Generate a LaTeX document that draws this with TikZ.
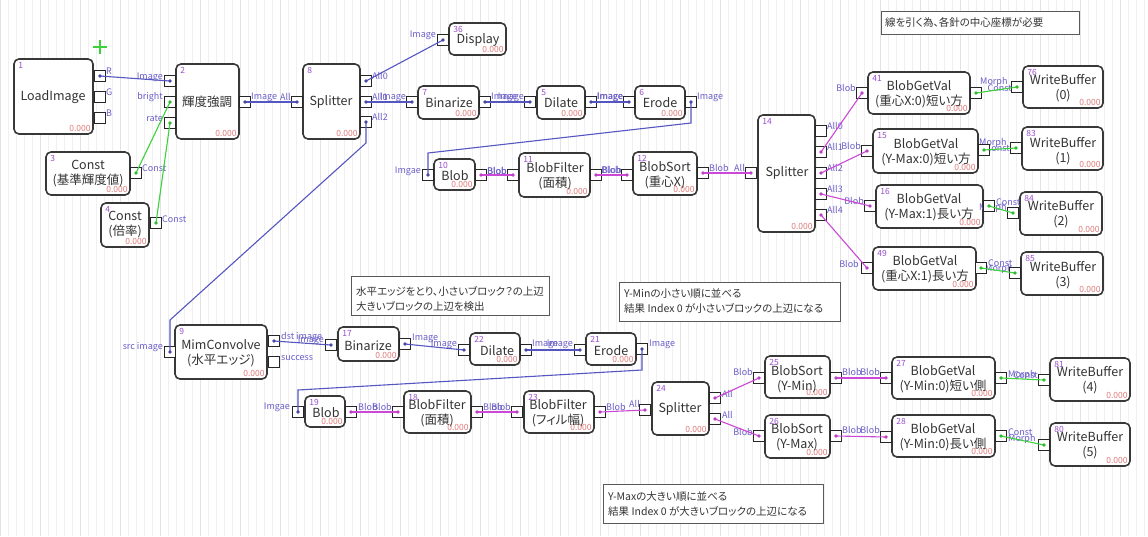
\documentclass[tikz,border=0pt]{standalone}
\usepackage{fontspec}
\setmainfont{Noto Sans CJK JP}[RawFeature=+palt]
\definecolor{boxln}{HTML}{383838}
\definecolor{numc}{HTML}{9A4FCB}
\definecolor{valc}{HTML}{E07A7A}
\definecolor{labc}{HTML}{6A5EC8}
\definecolor{cimg}{HTML}{5656C2}
\definecolor{cimgd}{HTML}{4646A8}
\definecolor{cblob}{HTML}{CC48D6}
\definecolor{cblobd}{HTML}{BE3EC8}
\definecolor{cconst}{HTML}{3CD23C}
\definecolor{cconstd}{HTML}{2CBC2C}
\definecolor{txtc}{HTML}{333333}
\newcommand\blk[6]{%
  \node[blkbox, minimum width={(#4)-(#2)}, minimum height={(#5)-(#3)}] (#1) at ({((#2)+(#4))/2},{((#3)+(#5))/2}) {};
  \node[numlab, anchor=north west] (#1num) at ([shift={(5,4)}]#1.north west) {#6};
  \node[vallab, anchor=south east] (#1val) at ([shift={(-3,-3)}]#1.south east) {0.000};
}
\newcommand\btxt[4]{\node[mtxt] (#1t) at (#2,#3) {#4};}
\newcommand\prt[3]{\node[port] (#1) at (#2,#3) {};}
\newcommand\labw[3]{\node[plab, anchor=west] (lw#1-#2) at (#1,#2) {#3};}
\newcommand\labe[3]{\node[plab, anchor=east] (le#1-#2) at (#1,#2) {#3};}
\newcommand\wire[3]{\draw[w#1] (#2.center) -- (#3.center);
  \fill[d#1] (#2.center) circle (1.8pt) (#3.center) circle (1.8pt);}
\begin{document}
\begin{tikzpicture}[x=1pt,y=-1pt,
  blkbox/.style={rectangle, draw=boxln, line width=1.6pt, fill=white, rounded corners=5pt, inner sep=0},
  port/.style={rectangle, draw=black!85, line width=1.3pt, fill=white, minimum size=11pt, inner sep=0},
  numlab/.style={font=\fontsize{8.5}{9}\selectfont, text=numc, inner sep=0},
  vallab/.style={font=\fontsize{8.5}{9}\selectfont, text=valc, inner sep=0},
  mtxt/.style={font=\fontsize{12.5}{15}\selectfont, text=txtc, align=center, inner sep=0},
  plab/.style={font=\fontsize{9}{10}\selectfont, text=labc, inner sep=0},
  notebox/.style={rectangle, draw=black!65, line width=1pt, fill=white, inner sep=0},
  notetxt/.style={font=\fontsize{10.5}{15}\selectfont, text=txtc, align=left, inner sep=0},
  wimg/.style={draw=cimg, line width=1.1pt},
  wblob/.style={draw=cblob, line width=1.1pt},
  wconst/.style={draw=cconst, line width=1.1pt},
  dimg/.style={fill=cimgd},
  dblob/.style={fill=cblobd},
  dconst/.style={fill=cconstd}]
\useasboundingbox (0,0) rectangle (1148,536);
\fill[white] (0,0) rectangle (1148,536);
\draw[black!6, line width=0.5pt, step=8] (0,0) grid (1148,536);
\draw[black!11, line width=0.6pt, step=40] (0,0) grid (1148,536);
% cross
\draw[cconst, line width=1.2pt] (93,47) -- (107,47) (100,40) -- (100,54);
% notes
\node[notebox, minimum width=198, minimum height=39] (note1) at (450,295.5) {};
\node[notetxt, anchor=west] (note1t) at (356,298.5) {水平エッジをとり、小さいブロック？の上辺\\大きいブロックの上辺を検出};
\node[notebox, minimum width=221, minimum height=39] (note2) at (729.5,301.5) {};
\node[notetxt, anchor=west] (note2t) at (624,301.5) {Y-Minの小さい順に並べる\\結果 Index 0 が小さいブロックの上辺になる};
\node[notebox, minimum width=220, minimum height=39] (note3) at (713,503.5) {};
\node[notetxt, anchor=west] (note3t) at (608,504) {Y-Maxの大きい順に並べる\\結果 Index 0 が大きいブロックの上辺になる};
\node[notebox, minimum width=198, minimum height=23] (note4) at (980,22.5) {};
\node[notetxt, anchor=west] (note4t) at (885,22.5) {線を引く為、各針の中心座標が必要};
% ---------- blocks ----------
\blk{n1}{14}{59}{93}{134}{1}  \btxt{n1}{53}{97}{LoadImage}
\blk{n2}{176}{64}{239}{139}{2} \btxt{n2}{207}{102}{輝度強調}
\blk{n3}{46}{152}{130}{195}{3} \btxt{n3}{88}{174}{Const\\(基準輝度値)}
\blk{n4}{101}{203}{149}{247}{4} \btxt{n4}{125}{225}{Const\\(倍率)}
\blk{n8}{303}{64}{360}{139}{8} \btxt{n8}{331}{102}{Splitter}
\blk{n36}{449}{23}{506}{55}{36} \btxt{n36}{478}{40}{Display}
\blk{n7}{418}{86}{479}{119}{7} \btxt{n7}{449}{103}{Binarize}
\blk{n5}{537}{86}{585}{119}{5} \btxt{n5}{561}{103}{Dilate}
\blk{n6}{635}{86}{685}{119}{6} \btxt{n6}{660}{103}{Erode}
\blk{n10}{434}{159}{475}{190}{10} \btxt{n10}{455}{176}{Blob}
\blk{n11}{519}{153}{590}{197}{11} \btxt{n11}{555}{176}{BlobFilter\\(面積)}
\blk{n12}{633}{152}{697}{195}{12} \btxt{n12}{665}{175}{BlobSort\\(重心X)}
\blk{n14}{758}{115}{815}{232}{14} \btxt{n14}{787}{173}{Splitter}
\blk{n41}{868}{72}{970}{114}{41} \btxt{n41}{919}{94}{BlobGetVal\\(重心X:0)短い方}
\blk{n76}{1023}{66}{1103}{108}{76} \btxt{n76}{1063}{88}{WriteBuffer\\(0)}
\blk{n15}{873}{129}{978}{173}{15} \btxt{n15}{926}{152}{BlobGetVal\\(Y-Max:0)短い方}
\blk{n83}{1022}{127}{1103}{170}{83} \btxt{n83}{1063}{151}{WriteBuffer\\(1)}
\blk{n16}{876}{185}{983}{228}{16} \btxt{n16}{929}{207}{BlobGetVal\\(Y-Max:1)長い方}
\blk{n84}{1020}{192}{1102}{235}{84} \btxt{n84}{1061}{214}{WriteBuffer\\(2)}
\blk{n49}{873}{247}{976}{290}{49} \btxt{n49}{925}{269}{BlobGetVal\\(重心X:1)長い方}
\blk{n85}{1021}{252}{1103}{295}{85} \btxt{n85}{1063}{275}{WriteBuffer\\(3)}
\blk{n9}{175}{325}{267}{379}{9} \btxt{n9}{221}{353}{MimConvolve\\(水平エッジ)}
\blk{n17}{338}{327}{399}{361}{17} \btxt{n17}{368}{346}{Binarize}
\blk{n22}{470}{333}{520}{365}{22} \btxt{n22}{497}{351}{Dilate}
\blk{n21}{586}{333}{636}{365}{21} \btxt{n21}{611}{351}{Erode}
\blk{n19}{305}{396}{345}{427}{19} \btxt{n19}{326}{413}{Blob}
\blk{n18}{404}{391}{471}{433}{18} \btxt{n18}{437}{413}{BlobFilter\\(面積)}
\blk{n23}{524}{391}{594}{433}{23} \btxt{n23}{558}{413}{BlobFilter\\(フィル幅)}
\blk{n24}{652}{382}{709}{435}{24} \btxt{n24}{680}{409}{Splitter}
\blk{n25}{765}{356}{830}{398}{25} \btxt{n25}{797}{379}{BlobSort\\(Y-Min)}
\blk{n26}{765}{415}{830}{458}{26} \btxt{n26}{797}{437}{BlobSort\\(Y-Max)}
\blk{n27}{892}{357}{995}{399}{27} \btxt{n27}{943}{379}{BlobGetVal\\(Y-Min:0)短い側}
\blk{n81}{1050}{358}{1130}{401}{81} \btxt{n81}{1090}{380}{WriteBuffer\\(4)}
\blk{n28}{892}{415}{995}{457}{28} \btxt{n28}{943}{437}{BlobGetVal\\(Y-Min:0)長い側}
\blk{n80}{1050}{423}{1130}{466}{80} \btxt{n80}{1090}{445}{WriteBuffer\\(5)}
% ---------- port labels ----------
\labw{106}{71}{R} \labw{106}{92}{G} \labw{106}{113}{B}
\labe{163}{77}{Image} \labe{163}{97}{bright} \labe{163}{118}{rate}
\labw{251}{97}{Image} \labe{291}{97}{All}
\labw{142}{168}{Const} \labw{162}{219}{Const}
\labw{372}{76}{All0} \labw{372}{97}{All1} \labw{372}{117}{All2}
\labe{436}{35}{Image}
\labe{406}{97}{Image} \labw{491}{97}{Image} \labe{524}{97}{Image}
\labw{597}{97}{Image} \labe{623}{97}{Image} \labw{697}{97}{Image}
\labe{421}{171}{Imgae} \labw{487}{171}{Blob} \labe{507}{171}{Blob}
\labw{602}{170}{Blob} \labe{621}{170}{Blob} \labw{709}{168}{Blob} \labe{745}{168}{All}
\labw{827}{126}{All0} \labw{827}{147}{All1} \labw{827}{168}{All2} \labw{827}{189}{All3} \labw{827}{210}{All4}
\labe{856}{88}{Blob} \labw{980}{82}{Morph} \labe{1012}{88}{Const}
\labe{861}{146}{Blob} \labw{979}{143}{Morph} \labe{1010}{148}{Const}
\labe{864}{201}{Blob} \labw{996}{202}{Const} \labw{979}{208}{Morph}
\labe{859}{264}{Blob} \labw{988}{263}{Const} \labw{985}{269}{Morph}
\labe{163}{347}{src image} \labw{281}{337}{dst image} \labw{281}{358}{success}
\labe{324}{340}{Image} \labw{412}{338}{Image} \labe{457}{344}{Image}
\labw{532}{344}{Image} \labe{573}{344}{Image} \labw{649}{344}{Image}
\labe{290}{407}{Imgae} \labw{358}{407}{Blob} \labe{392}{407}{Blob}
\labw{483}{407}{Blob} \labe{511}{407}{Blob} \labw{606}{407}{Blob} \labe{640}{404}{All}
\labw{722}{394}{All} \labw{722}{415}{All}
\labe{753}{372}{Blob} \labe{753}{432}{Blob}
\labw{842}{372}{Blob} \labe{880}{372}{Blob} \labw{842}{430}{Blob} \labe{880}{430}{Blob}
\labw{1008}{375}{Morph} \labe{1038}{375}{Const}
\labw{1008}{432}{Const} \labw{1008}{439}{Morph}
% ---------- ports ----------
\prt{n1R}{100}{76} \prt{n1G}{100}{97} \prt{n1B}{100}{118}
\prt{n2a}{170}{81} \prt{n2b}{170}{102} \prt{n2c}{170}{123} \prt{n2o}{245}{102}
\prt{n3o}{136}{173} \prt{n4o}{156}{223}
\prt{n8i}{297}{102} \prt{n8a}{366}{81} \prt{n8b}{366}{102} \prt{n8c}{366}{122}
\prt{n36i}{443}{40}
\prt{n7i}{412}{102} \prt{n7o}{485}{102}
\prt{n5i}{530}{102} \prt{n5o}{591}{102}
\prt{n6i}{629}{102} \prt{n6o}{691}{102}
\prt{n10i}{428}{175} \prt{n10o}{481}{175}
\prt{n11i}{513}{175} \prt{n11o}{596}{175}
\prt{n12i}{627}{175} \prt{n12o}{703}{173}
\prt{n14i}{751}{173}
\prt{n14a}{821}{131} \prt{n14b}{821}{152} \prt{n14c}{821}{173} \prt{n14d}{821}{194} \prt{n14e}{821}{215}
\prt{n41i}{862}{93} \prt{n41o}{976}{93} \prt{n76i}{1017}{87}
\prt{n15i}{867}{151} \prt{n15o}{984}{150} \prt{n83i}{1016}{148}
\prt{n16i}{870}{206} \prt{n16o}{989}{206} \prt{n84i}{1013}{213}
\prt{n49i}{867}{268} \prt{n49o}{981}{268} \prt{n85i}{1015}{273}
\prt{n9i}{170}{352} \prt{n9a}{274}{341} \prt{n9b}{274}{362}
\prt{n17i}{331}{345} \prt{n17o}{405}{344}
\prt{n22i}{464}{350} \prt{n22o}{526}{350}
\prt{n21i}{580}{350} \prt{n21o}{642}{349}
\prt{n19i}{298}{412} \prt{n19o}{351}{412}
\prt{n18i}{398}{412} \prt{n18o}{477}{412}
\prt{n23i}{517}{412} \prt{n23o}{600}{412}
\prt{n24i}{645}{410} \prt{n24a}{715}{398} \prt{n24b}{715}{419}
\prt{n25i}{759}{378} \prt{n25o}{836}{378}
\prt{n26i}{759}{436} \prt{n26o}{836}{436}
\prt{n27i}{886}{378} \prt{n27o}{1001}{378} \prt{n81i}{1044}{380}
\prt{n28i}{886}{437} \prt{n28o}{1001}{436} \prt{n80i}{1044}{445}
% ---------- wires ----------
\wire{img}{n1R}{n2a}
\wire{img}{n2o}{n8i}
\wire{img}{n8a}{n36i}
\wire{img}{n8b}{n7i}
\wire{img}{n7o}{n5i}
\wire{img}{n5o}{n6i}
\draw[wimg] (n6o.center) -- (691,123) -- (428,153) -- (n10i.center);
\fill[dimg] (n6o.center) circle (1.8pt) (n10i.center) circle (1.8pt);
\draw[wimg] (n8c.center) -- (366,143) -- (170,320) -- (n9i.center);
\fill[dimg] (n8c.center) circle (1.8pt) (n9i.center) circle (1.8pt);
\wire{img}{n9a}{n17i}
\wire{img}{n17o}{n22i}
\wire{img}{n22o}{n21i}
\draw[wimg] (n21o.center) -- (642,370) -- (298,390) -- (n19i.center);
\fill[dimg] (n21o.center) circle (1.8pt) (n19i.center) circle (1.8pt);
\wire{const}{n3o}{n2b}
\wire{const}{n4o}{n2c}
\wire{const}{n41o}{n76i}
\wire{const}{n15o}{n83i}
\wire{const}{n16o}{n84i}
\wire{const}{n49o}{n85i}
\wire{const}{n27o}{n81i}
\wire{const}{n28o}{n80i}
\wire{blob}{n10o}{n11i}
\wire{blob}{n11o}{n12i}
\wire{blob}{n12o}{n14i}
\wire{blob}{n14b}{n41i}
\wire{blob}{n14c}{n15i}
\wire{blob}{n14d}{n16i}
\wire{blob}{n14e}{n49i}
\wire{blob}{n19o}{n18i}
\wire{blob}{n18o}{n23i}
\wire{blob}{n23o}{n24i}
\wire{blob}{n24a}{n25i}
\wire{blob}{n24b}{n26i}
\wire{blob}{n25o}{n27i}
\wire{blob}{n26o}{n28i}
\end{tikzpicture}
\end{document}
